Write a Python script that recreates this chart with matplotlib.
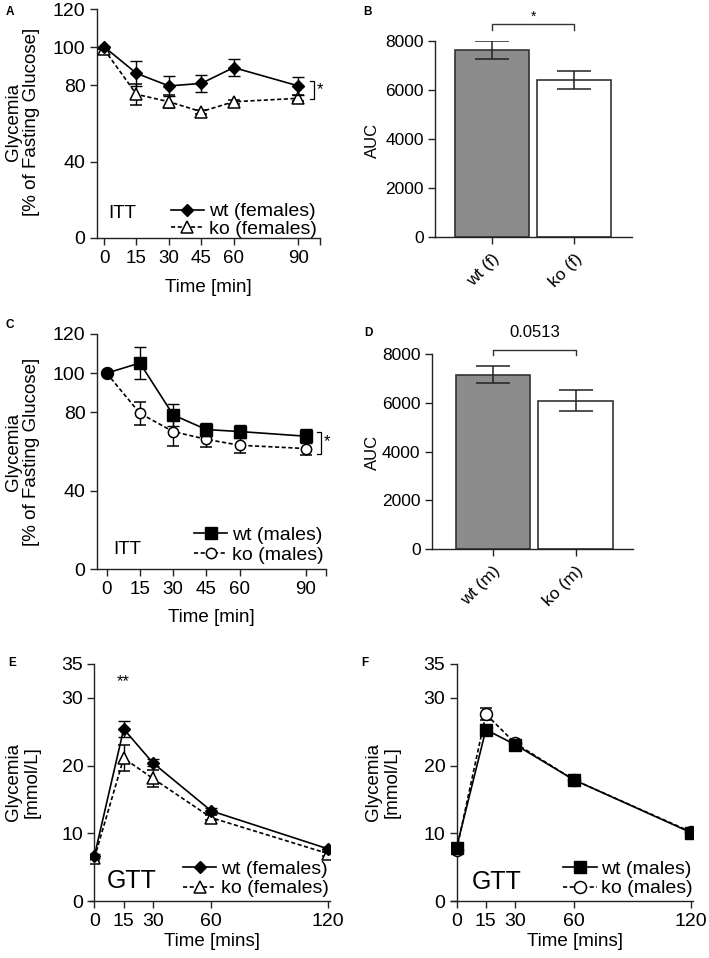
import numpy as np
import matplotlib
matplotlib.use("Agg")
import matplotlib.pyplot as plt
from matplotlib.lines import Line2D
from matplotlib.ticker import FixedLocator

plt.rcParams['font.family'] = ['Liberation Sans', 'DejaVu Sans']
plt.rcParams['axes.linewidth'] = 1.0
plt.rcParams['xtick.major.size'] = 5
plt.rcParams['ytick.major.size'] = 5
plt.rcParams['xtick.major.pad'] = 3.5
plt.rcParams['ytick.major.pad'] = 3

# ---- data ----
itt_time = [0, 15, 30, 45, 60, 90]
itt_wt_f = [100.2, 86.3, 79.7, 81.0, 89.3, 79.7]
itt_wt_f_err = [0, 6.6, 5.2, 4.4, 4.3, 4.8]
itt_ko_f = [98.9, 75.3, 71.4, 66.2, 71.4, 73.2]
itt_ko_f_err = [0, 5.5, 3.3, 1.0, 1.0, 1.5]

itt_wt_m = [100, 105.2, 78.7, 71.2, 70.2, 67.8]
itt_wt_m_err = [0, 8.0, 5.8, 3.2, 3.2, 3.6]
itt_ko_m = [100, 79.5, 70.2, 66.2, 63.2, 61.5]
itt_ko_m_err = [0, 5.8, 7.2, 3.7, 3.8, 3.3]

auc_f_labels = ["wt (f)", "ko (f)"]
auc_f = [7630, 6400]
auc_f_err = [360, 360]
auc_m_labels = ["wt (m)", "ko (m)"]
auc_m = [7160, 6090]
auc_m_err = [330, 430]

gtt_time = [0, 15, 30, 60, 120]
gtt_wt_f = [6.7, 25.4, 20.4, 13.3, 7.7]
gtt_wt_f_err = [0.3, 1.2, 0.5, 0.4, 0.3]
gtt_ko_f = [6.4, 21.1, 18.1, 12.3, 7.0]
gtt_ko_f_err = [0.3, 1.9, 1.2, 0.4, 0.3]

gtt_wt_m = [7.9, 25.3, 23.1, 17.9, 10.1]
gtt_wt_m_err = [0.4, 0.5, 0.4, 0.4, 0.3]
gtt_ko_m = [7.5, 27.6, 23.3, 17.9, 10.2]
gtt_ko_m_err = [0.3, 0.9, 0.4, 0.4, 0.3]

W, H = 709, 958
fig = plt.figure(figsize=(W / 100, H / 100), dpi=100)
DASH = (0, (2.5, 1.5))


def px_axes(left, right, top, bottom):
    return fig.add_axes([left / W, 1 - bottom / H, (right - left) / W, (bottom - top) / H])


def ftext(x, y, s, **kw):
    # text placed in figure pixels (from top-left)
    return fig.text(x / W, 1 - y / H, s, **kw)


def style(ax):
    ax.spines['top'].set_visible(False)
    ax.spines['right'].set_visible(False)
    for s in ('left', 'bottom'):
        ax.spines[s].set_color('#222222')
    ax.tick_params(colors='#222222', labelcolor='black', width=1.0)


def line_panel(ax, t, wt, wt_err, ko, ko_err, wt_mk, ko_mk, wt_ms, ko_ms, wt_every=None):
    ax.errorbar(t, ko, yerr=ko_err, color='black', lw=1.2, ls=DASH,
                marker=ko_mk, ms=ko_ms, mfc='white', mec='black', mew=1.1,
                capsize=4, elinewidth=1.0, capthick=1.0, zorder=3)
    ax.errorbar(t, wt, yerr=wt_err, color='black', lw=1.2, ls='-',
                marker=wt_mk, ms=wt_ms, mfc='black', mec='black', markevery=wt_every,
                capsize=4, elinewidth=1.0, capthick=1.0, zorder=4)


def add_legend(ax, wt_mk, ko_mk, wt_ms, ko_ms, wt_lab, ko_lab, anchor, fs, spacing):
    hs = [Line2D([], [], color='black', lw=1.2, marker=wt_mk, ms=wt_ms, mfc='black'),
          Line2D([], [], color='black', lw=1.2, ls=DASH, marker=ko_mk, ms=ko_ms,
                 mfc='white', mew=1.1)]
    ax.legend(hs, [wt_lab, ko_lab], loc='lower right', bbox_to_anchor=anchor,
              frameon=False, fontsize=fs, handlelength=1.7, handletextpad=0.25,
              labelspacing=spacing, borderpad=0, borderaxespad=0)


def bar_panel(ax, labels, vals, errs, xlim):
    xs = np.arange(len(vals))
    ax.bar(xs, vals, width=0.9, color=['#8c8c8c', 'white'], edgecolor='#333333', lw=1.2)
    ax.errorbar(xs, vals, yerr=errs, fmt='none', ecolor='#222222', elinewidth=1.1,
                capsize=12, capthick=1.1)
    ax.set_xlim(*xlim)
    ax.set_ylim(0, 8000)
    ax.set_yticks([0, 2000, 4000, 6000, 8000])
    ax.set_xticks(xs)
    ax.set_xticklabels(labels, rotation=45, ha='right', rotation_mode='anchor')
    ax.tick_params(labelsize=12.5)
    ax.tick_params(axis='x', pad=5)
    style(ax)


# ---- A ----
axA = px_axes(96.5, 320, 9, 238)
style(axA)
line_panel(axA, itt_time, itt_wt_f, itt_wt_f_err, itt_ko_f, itt_ko_f_err, 'D', '^', 6.4, 8.6)
axA.set_xlim(-3.5, 100)
axA.set_ylim(0, 120)
axA.set_xticks(itt_time)
axA.xaxis.set_minor_locator(FixedLocator([100]))
axA.tick_params(axis='x', which='minor', length=5, width=1.0, color='#222222')
axA.set_yticks([0, 40, 80, 100, 120])
axA.tick_params(axis='x', labelsize=13.5)
axA.tick_params(axis='y', labelsize=14)
axA.text(1.9, 13, "ITT", fontsize=13.5, va='center')
add_legend(axA, 'D', '^', 6.4, 8.6, 'wt (females)', 'ko (females)', (0.985, 0.0), 14, 0.0)
bx = 97
axA.plot([bx - 1.5, bx, bx, bx - 1.5], [82.4, 82.4, 72.8, 72.8],
         color='black', lw=0.9, clip_on=False)
axA.text(bx + 1.5, 77.6, "*", fontsize=12, va='center', clip_on=False)
ftext(22.5, 122, "Glycemia\n[% of Fasting Glucose]", fontsize=13.5, rotation=90,
      ha='center', va='center', linespacing=1.1)
ftext(208, 288, "Time [min]", fontsize=13.5, ha='center', va='center')

# ---- B ----
axB = px_axes(435, 632, 41, 237)
bar_panel(axB, auc_f_labels, auc_f, auc_f_err, (-0.69, 1.70))
axB.plot([0, 0, 1, 1], [8440, 8710, 8710, 8440], color='#333333', lw=1.0, clip_on=False)
axB.text(0.5, 9000, "*", ha='center', va='center', fontsize=10, clip_on=False)
ftext(372, 140, "AUC", fontsize=12, rotation=90, ha='center', va='center')

# ---- C ----
axC = px_axes(96.7, 326, 334, 569)
style(axC)
line_panel(axC, itt_time, itt_wt_m, itt_wt_m_err, itt_ko_m, itt_ko_m_err, 's', 'o', 8.4, 7.4,
           wt_every=list(range(1, len(itt_time))))
axC.plot(itt_time[:1], itt_ko_m[:1], 'o', color='black', ms=8.6, zorder=5)
axC.set_xlim(-4.5, 99)
axC.set_ylim(0, 120)
axC.set_xticks(itt_time)
axC.xaxis.set_minor_locator(FixedLocator([99]))
axC.tick_params(axis='x', which='minor', length=5, width=1.0, color='#222222')
axC.set_yticks([0, 40, 80, 100, 120])
axC.tick_params(axis='x', labelsize=13.5)
axC.tick_params(axis='y', labelsize=14)
axC.text(2.8, 9.9, "ITT", fontsize=13.5, va='center')
add_legend(axC, 's', 'o', 8.4, 7.4, 'wt (males)', 'ko (males)', (0.99, 0.02), 14, 0.15)
bx = 96.6
axC.plot([bx - 1.5, bx, bx, bx - 1.5], [70.1, 70.1, 58.9, 58.9],
         color='black', lw=0.9, clip_on=False)
axC.text(bx + 1.5, 65, "*", fontsize=12, va='center', clip_on=False)
ftext(22.5, 452, "Glycemia\n[% of Fasting Glucose]", fontsize=13.5, rotation=90,
      ha='center', va='center', linespacing=1.1)
ftext(211, 618, "Time [min]", fontsize=13.5, ha='center', va='center')

# ---- D ----
axD = px_axes(431.7, 632.7, 354, 549.3)
bar_panel(axD, auc_m_labels, auc_m, auc_m_err, (-0.743, 1.693))
axD.plot([0, 0, 1, 1], [7960, 8150, 8150, 7960], color='#333333', lw=1.0, clip_on=False)
axD.text(0.5, 8880, "0.0513", ha='center', va='center', fontsize=12, clip_on=False)
ftext(372, 452, "AUC", fontsize=12, rotation=90, ha='center', va='center')

# ---- E ----
axE = px_axes(90, 330, 664, 901)
style(axE)
line_panel(axE, gtt_time, gtt_wt_f, gtt_wt_f_err, gtt_ko_f, gtt_ko_f_err, 'D', '^', 6.4, 8.6)
axE.set_xlim(-2.3, 121)
axE.spines['left'].set_position(('data', 0))
axE.set_ylim(0, 35)
axE.set_xticks(gtt_time)
axE.set_yticks([0, 10, 20, 30, 35])
axE.tick_params(labelsize=14)
axE.text(6.5, 3.0, "GTT", fontsize=18, va='center')
add_legend(axE, 'D', '^', 6.4, 8.6, 'wt (females)', 'ko (females)', (0.995, 0.015), 14, 0.1)
axE.text(15, 32.4, "**", ha='center', va='center', fontsize=12)
ftext(22.5, 782, "Glycemia\n[mmol/L]", fontsize=13.5, rotation=90,
      ha='center', va='center', linespacing=1.1)
ftext(212, 942, "Time [mins]", fontsize=13.5, ha='center', va='center')

# ---- F ----
axF = px_axes(450.7, 693, 664, 901)
style(axF)
line_panel(axF, gtt_time, gtt_wt_m, gtt_wt_m_err, gtt_ko_m, gtt_ko_m_err, 's', 'o', 8.6, 8.6)
axF.set_xlim(-3, 121)
axF.spines['left'].set_position(('data', 0))
axF.set_ylim(0, 35)
axF.set_xticks(gtt_time)
axF.set_yticks([0, 10, 20, 30, 35])
axF.tick_params(labelsize=14)
axF.text(7.7, 2.8, "GTT", fontsize=18, va='center')
add_legend(axF, 's', 'o', 8.6, 8.6, 'wt (males)', 'ko (males)', (1.0, 0.015), 14, 0.1)
ftext(382.5, 782, "Glycemia\n[mmol/L]", fontsize=13.5, rotation=90,
      ha='center', va='center', linespacing=1.1)
ftext(575, 942, "Time [mins]", fontsize=13.5, ha='center', va='center')

# panel letters
for letter, x, y in [("A", 10, 12), ("B", 368, 12), ("C", 10, 325),
                     ("D", 368, 333), ("E", 12, 663), ("F", 365, 663)]:
    ftext(x, y, letter, fontsize=8.5, fontweight='bold', ha='center', va='center')

fig.savefig("out.png", dpi=100)
